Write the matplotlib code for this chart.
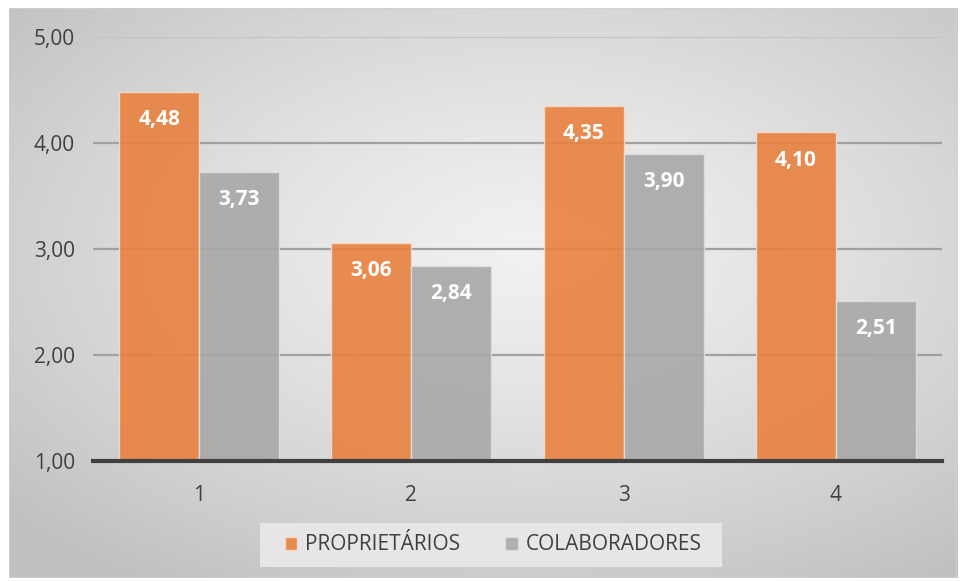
import numpy as np
import matplotlib
matplotlib.use("Agg")
import matplotlib.pyplot as plt
from matplotlib.patches import Rectangle

categories = ["1", "2", "3", "4"]
proprietarios = [4.48, 3.06, 4.35, 4.10]
colaboradores = [3.73, 2.84, 3.90, 2.51]
series_names = ["PROPRIETÁRIOS", "COLABORADORES"]
yticks = [1.0, 2.0, 3.0, 4.0, 5.0]

plt.rcParams['font.family'] = ['Open Sans', 'DejaVu Sans']

fig = plt.figure(figsize=(9.63, 5.81), dpi=100)
fig.patch.set_facecolor('white')

# background gradient panel
bg = fig.add_axes([9/963, 1-578/581, 948/963, 570/581])
yy, xx = np.mgrid[-1:1:300j, -1:1:500j]
r = np.sqrt(((xx-0.1)*0.95)**2 + ((yy-0.15)*1.0)**2)
r = np.clip(r/1.4, 0, 1)
val = 0.945 - 0.19*r**1.3
img = np.dstack([val, val, val])
bg.imshow(img, extent=[0, 1, 0, 1], aspect='auto', origin='lower')
bg.set_xlim(0, 1); bg.set_ylim(0, 1)
bg.set_axis_off()
bg.add_patch(Rectangle((0, 0), 1, 1, transform=bg.transAxes, fill=False,
                       edgecolor='#d0d0d0', linewidth=1.2))
# legend background box
fig.add_artist(Rectangle((260/963, 1-567/581), (722-260)/963, 44/581,
                         transform=fig.transFigure, facecolor='#e6e6e6',
                         edgecolor='none', zorder=1))

ax = fig.add_axes([93/963, 1-461/581, (942-93)/963, (461-37)/581])
ax.patch.set_alpha(0)
x = np.arange(1, len(categories)+1)
w = 0.377
b1 = ax.bar(x - w/2, [v-1 for v in proprietarios], w, bottom=1, color='#E8813F',
            alpha=0.9, edgecolor='#f6dcc8', linewidth=1.0, zorder=2, label=series_names[0])
b2 = ax.bar(x + w/2, [v-1 for v in colaboradores], w, bottom=1, color='#A8A8A8',
            alpha=0.9, edgecolor='#dedede', linewidth=1.0, zorder=2, label=series_names[1])

for bars, vals in ((b1, proprietarios), (b2, colaboradores)):
    for rect, v in zip(bars, vals):
        ax.annotate(f"{v:.2f}".replace('.', ','), (rect.get_x()+rect.get_width()/2, v),
                    xytext=(0, -20), textcoords='offset points', ha='center', va='center',
                    color='white', fontweight='bold', fontsize=15, zorder=4)

ax.set_xlim(0.5, 4.5)
ax.set_ylim(1, 5)
ax.set_yticks(yticks)
ax.set_yticklabels([f"{t:.2f}".replace('.', ',') for t in yticks])
ax.set_xticks(x)
ax.set_xticklabels(categories)
ax.grid(axis='y', color='#a0a0a0', linewidth=1.6, zorder=1)
ax.set_axisbelow(True)
for s in ['top', 'right', 'left']:
    ax.spines[s].set_visible(False)
ax.spines['bottom'].set_color('#404040')
ax.spines['bottom'].set_linewidth(3)
ax.spines['bottom'].set_zorder(3)
ax.tick_params(axis='both', length=0, labelsize=15, labelcolor='#404040')
ax.tick_params(axis='y', pad=13)
ax.tick_params(axis='x', pad=17)
# top gridline lighter as in the reference
ax.get_ygridlines()[-1].set_color('#c4c4c4')

leg = fig.legend(handles=[b1, b2], labels=series_names, loc='center',
                 bbox_to_anchor=(493/963, 1-545/581), ncol=2, frameon=False,
                 fontsize=15, handlelength=0.6, handleheight=0.6, handletextpad=0.35,
                 columnspacing=2.2, borderpad=0.6)
for t in leg.get_texts():
    t.set_color('#404040')

fig.savefig('out.png', dpi=100)
